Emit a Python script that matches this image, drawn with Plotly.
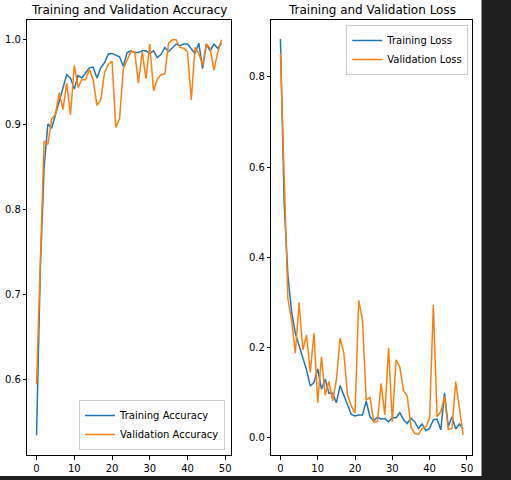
import plotly.graph_objects as go

epochs = list(range(50))

train_acc = [0.535, 0.73, 0.85, 0.901, 0.896, 0.912, 0.93, 0.945, 0.959, 0.955,
             0.942, 0.958, 0.955, 0.961, 0.967, 0.968, 0.955, 0.967, 0.973, 0.983,
             0.984, 0.982, 0.98, 0.969, 0.985, 0.987, 0.985, 0.985, 0.987, 0.987,
             0.984, 0.987, 0.979, 0.983, 0.991, 0.986, 0.991, 0.995, 0.993, 0.995,
             0.995, 0.99, 0.984, 0.996, 0.966, 0.995, 0.987, 0.995, 0.99, 0.996]

val_acc = [0.595, 0.745, 0.881, 0.877, 0.907, 0.912, 0.938, 0.918, 0.949, 0.912,
           0.97, 0.944, 0.953, 0.953, 0.965, 0.953, 0.923, 0.929, 0.961, 0.971,
           0.975, 0.897, 0.907, 0.966, 0.976, 0.986, 0.986, 0.949, 0.986, 0.954,
           0.995, 0.94, 0.954, 0.959, 0.96, 0.996, 1.0, 1.0, 0.991, 0.99,
           0.986, 0.929, 0.991, 0.984, 0.97, 0.995, 0.99, 0.964, 0.985, 1.0]

train_loss = [0.884, 0.52, 0.36, 0.28, 0.232, 0.206, 0.18, 0.151, 0.115, 0.123,
              0.153, 0.108, 0.13, 0.099, 0.099, 0.078, 0.116, 0.095, 0.075, 0.052,
              0.049, 0.051, 0.051, 0.082, 0.047, 0.038, 0.046, 0.042, 0.043, 0.036,
              0.045, 0.045, 0.056, 0.041, 0.032, 0.044, 0.036, 0.021, 0.031, 0.016,
              0.021, 0.04, 0.042, 0.018, 0.1, 0.025, 0.047, 0.02, 0.031, 0.02]

val_loss = [0.852, 0.56, 0.309, 0.26, 0.188, 0.30, 0.195, 0.228, 0.145, 0.232,
            0.078, 0.18, 0.095, 0.125, 0.082, 0.128, 0.221, 0.188, 0.095, 0.071,
            0.055, 0.305, 0.261, 0.084, 0.09, 0.036, 0.036, 0.121, 0.051, 0.2,
            0.036, 0.173, 0.158, 0.105, 0.093, 0.024, 0.01, 0.008, 0.021, 0.025,
            0.044, 0.295, 0.047, 0.058, 0.092, 0.019, 0.021, 0.125, 0.062, 0.007]

x_ticks = [0, 10, 20, 30, 40, 50]
acc_ticks = [0.6, 0.7, 0.8, 0.9, 1.0]
loss_ticks = [0.0, 0.2, 0.4, 0.6, 0.8]

BLUE = "#1f77b4"
ORANGE = "#ff7f0e"
FONT = "DejaVu Sans"
W, H = 511, 480

fig = go.Figure()
fig.add_trace(go.Scatter(x=epochs, y=train_acc, mode="lines", name="Training Accuracy",
                         line=dict(color=BLUE, width=1.5), xaxis="x", yaxis="y", legend="legend"))
fig.add_trace(go.Scatter(x=epochs, y=val_acc, mode="lines", name="Validation Accuracy",
                         line=dict(color=ORANGE, width=1.5), xaxis="x", yaxis="y", legend="legend"))
fig.add_trace(go.Scatter(x=epochs, y=train_loss, mode="lines", name="Training Loss",
                         line=dict(color=BLUE, width=1.5), xaxis="x2", yaxis="y2", legend="legend2"))
fig.add_trace(go.Scatter(x=epochs, y=val_loss, mode="lines", name="Validation Loss",
                         line=dict(color=ORANGE, width=1.5), xaxis="x2", yaxis="y2", legend="legend2"))

axis_common = dict(showline=True, mirror=True, linecolor="black", linewidth=1,
                   ticks="outside", ticklen=3.5, tickwidth=1, tickcolor="black",
                   showgrid=False, zeroline=False, automargin=False,
                   tickfont=dict(family=FONT, size=10, color="black"))

ydom = [1 - 455 / H, 1 - 20 / H]

fig.update_layout(
    width=W, height=H,
    margin=dict(l=0, r=0, t=0, b=0),
    paper_bgcolor="#1f1f1f",
    plot_bgcolor="white",
    font=dict(family=FONT, size=10, color="black"),
    xaxis=dict(domain=[27.3 / W, 230.7 / W], range=[-2.45, 51.45], tickvals=x_ticks,
               anchor="y", **axis_common),
    yaxis=dict(domain=ydom, range=[0.5117, 1.0233], tickvals=acc_ticks, tickformat=".1f",
               anchor="x", **axis_common),
    xaxis2=dict(domain=[271.3 / W, 472.3 / W], range=[-2.45, 51.45], tickvals=x_ticks,
                anchor="y2", **axis_common),
    yaxis2=dict(domain=ydom, range=[-0.0377, 0.926], tickvals=loss_ticks, tickformat=".1f",
                anchor="x2", **axis_common),
    legend=dict(x=225 / W, y=1 - 450 / H, xanchor="right", yanchor="bottom",
                bgcolor="rgba(255,255,255,0.8)", bordercolor="#cccccc", borderwidth=1,
                font=dict(family=FONT, size=10, color="black"), itemwidth=30),
    legend2=dict(x=468.3 / W, y=1 - 25 / H, xanchor="right", yanchor="top",
                 bgcolor="rgba(255,255,255,0.8)", bordercolor="#cccccc", borderwidth=1,
                 font=dict(family=FONT, size=10, color="black"), itemwidth=30),
    shapes=[dict(type="rect", xref="paper", yref="paper", x0=0, x1=481.5 / W,
                 y0=4 / H, y1=1, fillcolor="white", line=dict(width=0), layer="below")],
    annotations=[
        dict(text="Training and Validation Accuracy", xref="paper", yref="paper",
             x=129 / W, y=1 - 10.5 / H, xanchor="center", yanchor="middle", showarrow=False,
             font=dict(family=FONT, size=12, color="black")),
        dict(text="Training and Validation Loss", xref="paper", yref="paper",
             x=371.8 / W, y=1 - 10.5 / H, xanchor="center", yanchor="middle", showarrow=False,
             font=dict(family=FONT, size=12, color="black")),
    ],
)

fig.write_html("out.html", config={"displayModeBar": False},
               post_script="document.body.style.margin='0';document.body.style.overflow='hidden';")
